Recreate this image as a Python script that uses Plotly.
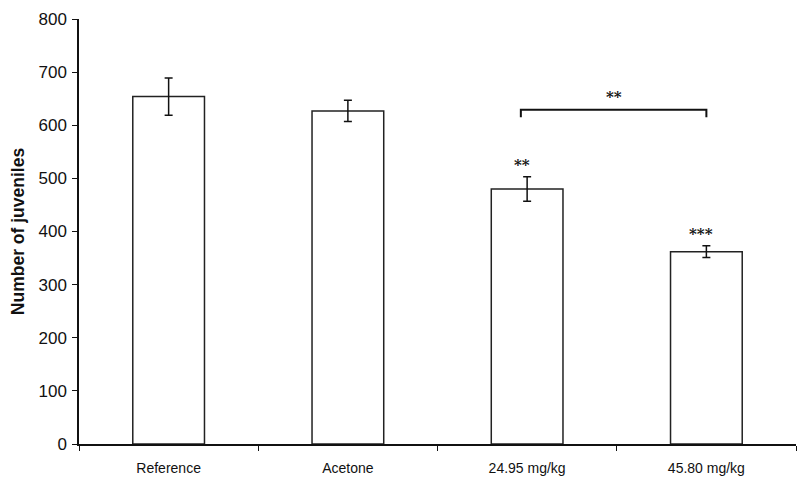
import plotly.graph_objects as go

categories = ["Reference", "Acetone", "24.95 mg/kg", "45.80 mg/kg"]
values = [654, 627, 480, 362]
errors = [35, 20, 23, 11]
bar_marks = ["", "", "**", "***"]
bracket_y = 629
bracket_drop = 14
bracket_label = "**"

fig = go.Figure()
fig.add_trace(go.Bar(
    x=categories, y=values, width=0.4,
    marker=dict(color="white", line=dict(color="#222", width=1.5)),
    error_y=dict(type="data", array=errors, visible=True, color="#111", thickness=1.5, width=4),
    showlegend=False,
))

for i, (v, e, m) in enumerate(zip(values, errors, bar_marks)):
    if m:
        fig.add_annotation(x=i - 0.03, y=v + e, text="<b>" + m + "</b>", showarrow=False, yanchor="bottom",
                           yshift=1, font=dict(family="DejaVu Serif", size=15, color="#111"))

# significance bracket between bars 3 and 4
x0, x1 = 1.965, 3.0
fig.add_trace(go.Scatter(
    x=[x0, x0, x1, x1], y=[bracket_y - bracket_drop, bracket_y, bracket_y, bracket_y - bracket_drop],
    mode="lines", line=dict(color="#111", width=2), showlegend=False, hoverinfo="skip",
    xaxis="x2",
))
fig.add_annotation(x=(x0 + x1) / 2, y=bracket_y, xref="x2", text="<b>" + bracket_label + "</b>", showarrow=False,
                   yanchor="bottom", yshift=2, font=dict(family="DejaVu Serif", size=15, color="#111"))

fig.update_layout(
    width=802, height=482,
    margin=dict(l=71, r=14, t=11, b=46),
    plot_bgcolor="white", paper_bgcolor="white",
    font=dict(family="Liberation Sans, Arial", color="#111"),
    xaxis=dict(showline=True, linecolor="#111", linewidth=1.5, ticks="outside", tickson="boundaries",
               ticklen=5, tickcolor="#111", tickfont=dict(size=14), showgrid=False, range=[-0.5, 3.5],
               automargin=False, ticklabelstandoff=10),
    xaxis2=dict(overlaying="x", range=[-0.5, 3.5], visible=False),
    yaxis=dict(range=[0, 800], dtick=100, showline=True, linecolor="#111", linewidth=1.5,
               ticks="outside", ticklen=5, tickcolor="#111", tickfont=dict(size=17), showgrid=False,
               zeroline=False, automargin=False, ticklabelstandoff=2,
               title=dict(text="<b>Number of juveniles</b>", font=dict(size=17.5), standoff=10)),
)
fig.write_html("out.html")
